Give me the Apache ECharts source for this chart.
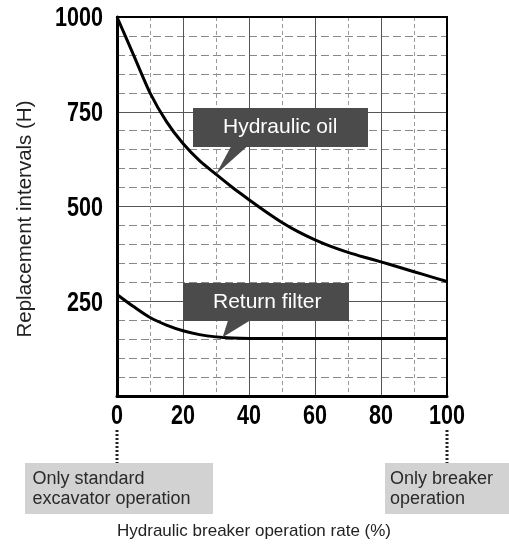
<!DOCTYPE html>
<html>
<head>
<meta charset="utf-8">
<script src="https://cdn.jsdelivr.net/npm/echarts@6/dist/echarts.min.js"></script>
<style>
  html, body { margin: 0; padding: 0; background: #fff; }
  #chart { width: 509px; height: 557px; }
</style>
</head>
<body>
<div id="chart"></div>
<script>
// Breaker operation rate (%) at which each curve is sampled
const rates = [0, 5, 10, 15, 20, 25, 30, 35, 40, 45, 50, 55, 60, 65, 70, 75, 80, 85, 90, 95, 100];
// Replacement interval (hours) for hydraulic oil
const hydraulicOil = [1000, 900, 800, 724, 666, 621, 585, 550, 518, 487, 458, 433, 412, 394, 379, 366, 354, 341, 328, 315, 302];
// Replacement interval (hours) for the return filter
const returnFilter = [268, 236, 207, 187, 172, 162, 156, 153, 152, 152, 152, 152, 152, 152, 152, 152, 152, 152, 152, 152, 152];

const seriesNames = ['Hydraulic oil', 'Return filter'];
const calloutRates = [30, 32];
const xTicks = [0, 20, 40, 60, 80, 100];
const yTicks = [250, 500, 750, 1000];
const xAxisTitle = 'Hydraulic breaker operation rate (%)';
const yAxisTitle = 'Replacement intervals (H)';
const modeLabels = ['Only standard\nexcavator operation', 'Only breaker\noperation'];
const modeRates = [0, 100];

const chart = echarts.init(document.getElementById('chart'), null, { renderer: 'canvas' });

const plainFont = '"Liberation Sans", Arial, sans-serif';
// condensed bold numerals for the tick labels
const tickFont = 'bold 27px "Liberation Sans", Arial, sans-serif';
const tickSqueeze = 0.8;

chart.setOption({
  animation: false,
  grid: { left: 117, top: 17, width: 330, height: 379, show: false },
  xAxis: {
    type: 'value', min: 0, max: 100, interval: 20,
    axisLine: { show: true, onZero: false, lineStyle: { color: '#000', width: 3 } },
    axisTick: { show: false },
    axisLabel: { show: false },
    splitLine: { show: true, lineStyle: { color: '#555', width: 1 } },
    minorTick: { show: false, splitNumber: 2 },
    minorSplitLine: { show: true, lineStyle: { color: '#999', width: 1, type: [4, 3] } }
  },
  yAxis: {
    type: 'value', min: 0, max: 1000, interval: 250,
    axisLine: { show: true, onZero: false, lineStyle: { color: '#000', width: 3 } },
    axisTick: { show: false },
    axisLabel: { show: false },
    splitLine: { show: true, lineStyle: { color: '#555', width: 1 } },
    minorTick: { show: false, splitNumber: 5 },
    minorSplitLine: { show: true, lineStyle: { color: '#888', width: 1, type: [8, 4] } }
  },
  series: [
    {
      name: seriesNames[0], type: 'line', smooth: 0.25, showSymbol: false,
      lineStyle: { color: '#000', width: 3 }, z: 5,
      data: rates.map((r, i) => [r, hydraulicOil[i]])
    },
    {
      name: seriesNames[1], type: 'line', smooth: 0.3, showSymbol: false,
      lineStyle: { color: '#000', width: 3 }, z: 5,
      data: rates.map((r, i) => [r, returnFilter[i]])
    }
  ]
});

// value on a curve at a given rate (linear between samples)
function valueAt(arr, x) {
  for (let i = 0; i < rates.length - 1; i++) {
    if (x >= rates[i] && x <= rates[i + 1]) {
      const t = (x - rates[i]) / (rates[i + 1] - rates[i]);
      return arr[i] + t * (arr[i + 1] - arr[i]);
    }
  }
  return arr[arr.length - 1];
}
const px = (x, y) => chart.convertToPixel({ gridIndex: 0 }, [x, y]);

const topLeft = px(0, 1000);
const bottomRight = px(100, 0);
const oilTip = px(calloutRates[0], valueAt(hydraulicOil, calloutRates[0]));
const filterTip = px(calloutRates[1], valueAt(returnFilter, calloutRates[1]));

const calloutFill = '#4b4b4b';
const modeFill = '#d2d2d2';

function callout(box, base, tip, label, textX) {
  return [
    { type: 'polygon', z: 20, shape: { points: [base[0], base[1], tip] }, style: { fill: calloutFill } },
    { type: 'rect', z: 20, shape: box, style: { fill: calloutFill } },
    {
      type: 'text', z: 21, x: textX, y: box.y + box.height / 2,
      style: { text: label, fill: '#fff', font: '21px ' + plainFont, align: 'left', verticalAlign: 'middle' }
    }
  ];
}

const graphics = [
  // plot frame
  {
    type: 'rect', z: 15, silent: true,
    shape: { x: topLeft[0], y: topLeft[1], width: bottomRight[0] - topLeft[0], height: bottomRight[1] - topLeft[1] },
    style: { fill: null, stroke: '#000', lineWidth: 2 }
  },
  ...callout({ x: 193, y: 108, width: 175, height: 39 }, [[231, 146.5], [247, 146.5]], oilTip, seriesNames[0], 223),
  ...callout({ x: 183, y: 283, width: 166, height: 38 }, [[228, 320.5], [250, 320.5]], filterTip, seriesNames[1], 213),
  // axis titles
  {
    type: 'text', x: 25.5, y: 219, rotation: Math.PI / 2,
    style: { text: yAxisTitle, fill: '#222', font: '20.5px ' + plainFont, align: 'center', verticalAlign: 'middle' }
  },
  {
    type: 'text', x: 254, y: 531,
    style: { text: xAxisTitle, fill: '#222', font: '17px ' + plainFont, align: 'center', verticalAlign: 'middle' }
  }
];

// tick labels placed on the axis scale
xTicks.forEach(v => {
  const p = px(v, 0);
  graphics.push({
    type: 'text', x: p[0], y: p[1] + 21, scaleX: tickSqueeze,
    style: { text: String(v), fill: '#000', font: tickFont, align: 'center', verticalAlign: 'middle' }
  });
});
yTicks.forEach(v => {
  const p = px(0, v);
  graphics.push({
    type: 'text', x: p[0] - 14, y: p[1] + 2, scaleX: tickSqueeze,
    style: { text: String(v), fill: '#000', font: tickFont, align: 'right', verticalAlign: 'middle' }
  });
});

// operating-mode notes under both ends of the rate axis
const modeBoxes = [
  { x: 25, y: 463, width: 188, height: 51, textX: 32.5 },
  { x: 385, y: 463, width: 124, height: 51, textX: 390 }
];
modeRates.forEach((r, i) => {
  const ax = px(r, 0)[0];
  const b = modeBoxes[i];
  graphics.push(
    { type: 'line', shape: { x1: ax, y1: 430, x2: ax, y2: 463 }, style: { stroke: '#222', lineWidth: 3, lineDash: [2, 2] } },
    { type: 'rect', shape: { x: b.x, y: b.y, width: b.width, height: b.height }, style: { fill: modeFill } },
    {
      type: 'text', x: b.textX, y: b.y + b.height / 2 + 0.5,
      style: { text: modeLabels[i], fill: '#2a2a2a', font: '18px ' + plainFont, lineHeight: 20, align: 'left', verticalAlign: 'middle' }
    }
  );
});

chart.setOption({ graphic: graphics });
</script>
</body>
</html>
